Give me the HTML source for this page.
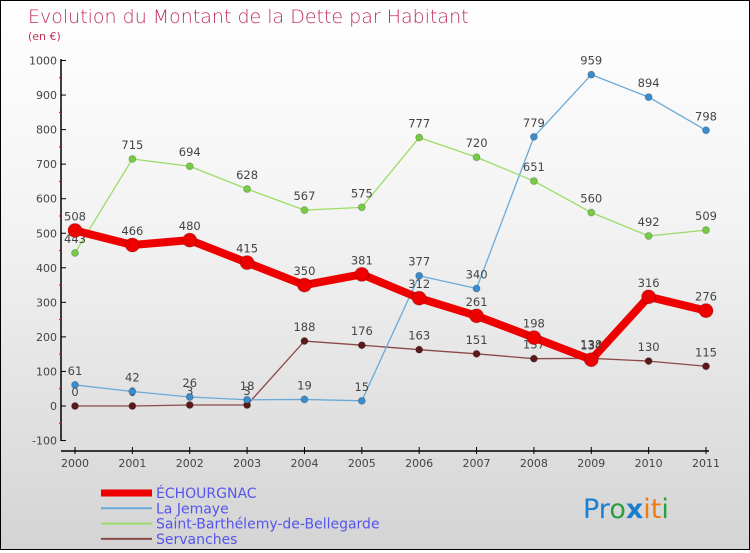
<!DOCTYPE html>
<html><head><meta charset="utf-8"><style>
body{margin:0}
#c{width:748px;height:548px;border:1px solid #000;background:linear-gradient(#fff,#f3f3f3 40%,#d4d4d4);position:relative;font-family:"DejaVu Sans","Liberation Sans",sans-serif}
text{font-family:"DejaVu Sans","Liberation Sans",sans-serif}
</style></head><body>
<div id="c">
<svg id="s" width="748" height="548">
<text x="27" y="22" font-size="19" fill="#c0305a" font-weight="200">Evolution du Montant de la Dette par Habitant</text>
<text x="27" y="39" font-size="11" fill="#c0305a">(en €)</text>
<g id="g"></g>
<text x="582" y="517" font-size="27" font-family="Liberation Sans,sans-serif"><tspan fill="#1a7fd0">Pr</tspan><tspan fill="#28a040">o</tspan><tspan fill="#1a7fd0" font-weight="bold">x</tspan><tspan fill="#f07a10">it</tspan><tspan fill="#28a040">i</tspan></text>
</svg>
</div>
<script>
const years=[2000,2001,2002,2003,2004,2005,2006,2007,2008,2009,2010,2011];
const echourgnac=[508,466,480,415,350,381,312,261,198,134,316,276];
const jemaye=[61,42,26,18,19,15,377,340,779,959,894,798];
const stbarth=[443,715,694,628,567,575,777,720,651,560,492,509];
const servanches=[0,0,3,3,188,176,163,151,137,138,130,115];
const yTicks=[-100,0,100,200,300,400,500,600,700,800,900,1000];
const NS="http://www.w3.org/2000/svg";
const g=document.getElementById('g');
const X=i=>74+i*(631/11);
const Y=v=>405-v*0.3455;
function el(t,a,p){const e=document.createElementNS(NS,t);for(const k in a)e.setAttribute(k,a[k]);(p||g).appendChild(e);return e;}
let ax=el('line',{x1:60,y1:58,x2:60,y2:440,stroke:'#000','stroke-width':1.5});


let bx=el('line',{x1:60,y1:450,x2:708,y2:450,stroke:'#000','stroke-width':1.5});


yTicks.forEach((v,i)=>{
  el('line',{x1:60,y1:Y(v),x2:65,y2:Y(v),stroke:'#000'});
  if(i<yTicks.length-1)el('line',{x1:58,y1:Y(v+50),x2:61,y2:Y(v+50),stroke:'#e00'});
  const t=el('text',{x:56,y:Y(v)+4,'font-size':11,fill:'#444','text-anchor':'end'});t.textContent=v;
  
  
});
years.forEach((yr,i)=>{
  el('line',{x1:X(i),y1:446,x2:X(i),y2:453,stroke:'#000'});
  const t=el('text',{x:X(i),y:466,'font-size':11,fill:'#444','text-anchor':'middle'});t.textContent=yr;
  
  
});
function series(d,col,dot,w,r,name){
  const p=el('polyline',{points:d.map((v,i)=>X(i)+','+Y(v)).join(' '),fill:'none',stroke:col,'stroke-width':w,'stroke-linejoin':'round'});
  
  
  d.forEach((v,i)=>{
    const c=el('circle',{cx:X(i),cy:Y(v),r:r,fill:dot,stroke:'rgba(0,0,0,0.2)'});
    
    
    const t=el('text',{x:X(i),y:Y(v)-10,'font-size':11.5,fill:'#444','text-anchor':'middle'});t.textContent=v;
    
    
  });
}
series(servanches,'#8a4a4a','#5a1a1a',1.3,3.5,'servanches');
series(jemaye,'#6aaad8','#3a8ccc',1.3,3.5,'la-jemaye');
series(stbarth,'#99dd66','#77cc44',1.3,3.5,'saint-barthelemy');
series(echourgnac,'#ee0000','#ee0000',8,7,'echourgnac');
const leg=[['ÉCHOURGNAC','#ee0000',7],['La Jemaye','#6aaad8',2],['Saint-Barthélemy-de-Bellegarde','#99dd66',2],['Servanches','#8a4a4a',2]];
leg.forEach((l,i)=>{
  const y=492+i*15.3;
  const ln=el('line',{x1:100,y1:y,x2:151,y2:y,stroke:l[1],'stroke-width':l[2]});
  
  
  const t=el('text',{x:155,y:y+5,'font-size':14,fill:'#5555ee'});t.textContent=l[0];
  
  
});
</script>
</body></html>
